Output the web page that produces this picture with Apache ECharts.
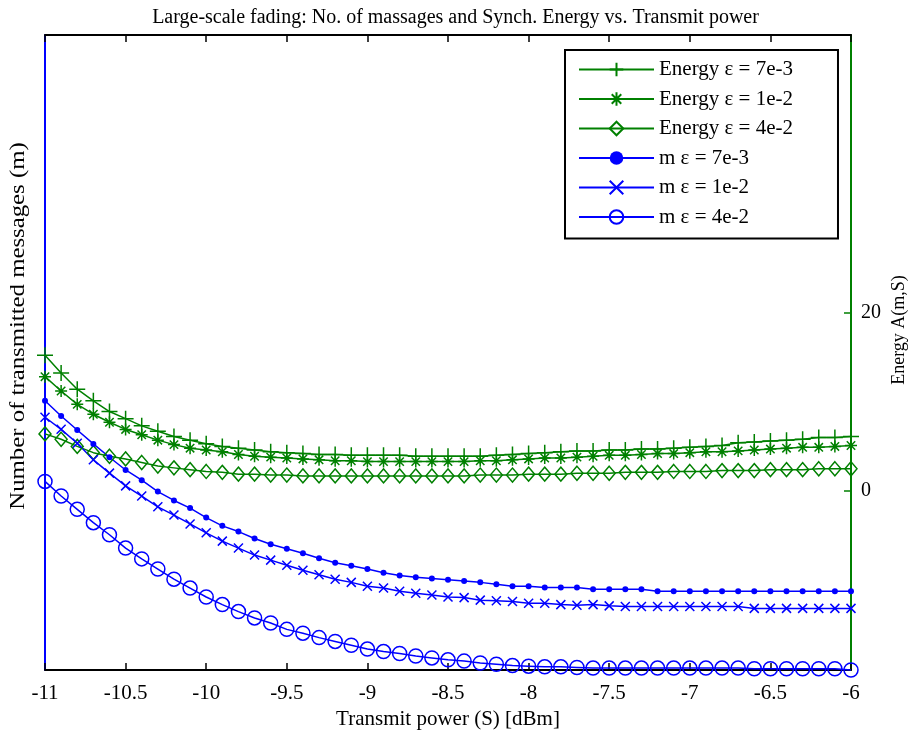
<!DOCTYPE html>
<html>
<head>
<meta charset="utf-8" />
<title>Large-scale fading</title>
<script src="https://cdn.jsdelivr.net/npm/echarts@6/dist/echarts.min.js"></script>
<style>
  body { margin: 0; padding: 0; background: #fff; }
  #main { width: 911px; height: 732px; }
</style>
</head>
<body>
<div id="main"></div>
<script type="text/javascript">
// transmit power (dBm)
var power = [-11, -10.9, -10.8, -10.7, -10.6, -10.5, -10.4, -10.3, -10.2, -10.1,
  -10, -9.9, -9.8, -9.7, -9.6, -9.5, -9.4, -9.3, -9.2, -9.1,
  -9, -8.9, -8.8, -8.7, -8.6, -8.5, -8.4, -8.3, -8.2, -8.1,
  -8, -7.9, -7.8, -7.7, -7.6, -7.5, -7.4, -7.3, -7.2, -7.1,
  -7, -6.9, -6.8, -6.7, -6.6, -6.5, -6.4, -6.3, -6.2, -6.1, -6];

// energy A(m,S), right axis
var energy7e3 = [15.2, 13.2, 11.4, 10.1, 8.9, 8.1, 7.3, 6.7, 6.1, 5.7,
  5.3, 5.0, 4.8, 4.6, 4.4, 4.3, 4.2, 4.1, 4.1, 4.0,
  4.0, 4.0, 4.0, 3.9, 3.9, 3.9, 3.9, 3.9, 4.0, 4.1,
  4.2, 4.3, 4.4, 4.5, 4.5, 4.6, 4.6, 4.7, 4.7, 4.8,
  4.9, 5.0, 5.1, 5.4, 5.5, 5.6, 5.7, 5.8, 6.0, 6.0, 6.1];
var energy1e2 = [12.8, 11.2, 9.7, 8.6, 7.7, 6.9, 6.3, 5.7, 5.2, 4.8,
  4.6, 4.4, 4.1, 3.9, 3.8, 3.7, 3.6, 3.5, 3.4, 3.4,
  3.3, 3.3, 3.3, 3.3, 3.3, 3.3, 3.3, 3.4, 3.4, 3.5,
  3.6, 3.7, 3.7, 3.8, 3.9, 4.0, 4.0, 4.1, 4.2, 4.2,
  4.3, 4.4, 4.4, 4.5, 4.6, 4.7, 4.8, 4.9, 4.9, 5.0, 5.1];
var energy4e2 = [6.4, 5.8, 5.0, 4.3, 3.9, 3.6, 3.2, 2.8, 2.6, 2.4,
  2.2, 2.1, 1.9, 1.9, 1.8, 1.8, 1.7, 1.7, 1.7, 1.7,
  1.7, 1.7, 1.7, 1.7, 1.7, 1.7, 1.7, 1.8, 1.8, 1.8,
  1.9, 1.9, 1.9, 2.0, 2.0, 2.0, 2.1, 2.1, 2.1, 2.2,
  2.2, 2.2, 2.3, 2.3, 2.3, 2.4, 2.4, 2.4, 2.5, 2.5, 2.5];

// number of transmitted messages m, left axis (no tick labels on it)
var m7e3 = [42.4, 40.0, 37.8, 35.6, 33.5, 31.5, 29.9, 28.1, 26.7, 25.5,
  24.0, 22.7, 21.8, 20.7, 19.8, 19.1, 18.4, 17.6, 16.9, 16.4,
  15.9, 15.3, 14.9, 14.6, 14.4, 14.2, 14.0, 13.8, 13.5, 13.2,
  13.2, 13.0, 13.0, 13.0, 12.7, 12.7, 12.7, 12.7, 12.4, 12.4,
  12.4, 12.4, 12.4, 12.4, 12.4, 12.4, 12.4, 12.4, 12.4, 12.4, 12.4];
var m1e2 = [39.8, 37.9, 35.7, 33.1, 31.0, 29.0, 27.4, 25.7, 24.4, 23.0,
  21.6, 20.3, 19.2, 18.1, 17.3, 16.5, 15.7, 15.0, 14.3, 13.8,
  13.2, 12.9, 12.4, 12.1, 11.8, 11.5, 11.4, 11.0, 10.9, 10.8,
  10.5, 10.5, 10.3, 10.2, 10.3, 10.1, 10.0, 10.0, 10.0, 10.0,
  10.0, 10.0, 10.0, 10.0, 9.7, 9.7, 9.7, 9.7, 9.7, 9.7, 9.7];
var m4e2 = [29.7, 27.4, 25.3, 23.2, 21.3, 19.2, 17.5, 15.9, 14.3, 12.9,
  11.5, 10.3, 9.2, 8.2, 7.4, 6.4, 5.8, 5.1, 4.5, 3.9,
  3.3, 2.9, 2.6, 2.2, 1.9, 1.6, 1.4, 1.1, 0.9, 0.7,
  0.6, 0.5, 0.5, 0.4, 0.3, 0.3, 0.3, 0.3, 0.3, 0.3,
  0.3, 0.3, 0.3, 0.3, 0.2, 0.2, 0.2, 0.2, 0.2, 0.2, 0.0];

var xTicks = [-11, -6, 0.5];
var energyTicks = [0, 20];

var GREEN = '#008000';
var BLUE = '#0000ff';
var FONT = 'Liberation Serif';

var plusSym = 'path://M5,0L5,10M0,5L10,5';
var starSym = 'path://M5,0L5,10M0,5L10,5M1.5,1.5L8.5,8.5M1.5,8.5L8.5,1.5';
var crossSym = 'path://M0,0L10,10M0,10L10,0';

function pairs(ys) {
  return power.map(function (x, i) { return [x, ys[i]]; });
}

function mkSeries(name, ys, axis, color, symbol, size, filled) {
  return {
    name: name,
    type: 'line',
    yAxisIndex: axis,
    data: pairs(ys),
    symbol: symbol,
    symbolSize: size,
    clip: false,
    animation: false,
    lineStyle: { color: color, width: 1.5 },
    itemStyle: {
      color: filled ? color : 'rgba(0,0,0,0)',
      borderColor: color,
      borderWidth: filled ? 0 : 1.5
    }
  };
}

var chart = echarts.init(document.getElementById('main'));
chart.setOption({
  animation: false,
  title: {
    text: 'Large-scale fading: No. of massages and Synch. Energy vs. Transmit power',
    left: 'center',
    top: 3,
    textStyle: { fontFamily: FONT, fontSize: 20, fontWeight: 'normal', color: '#000' }
  },
  grid: { left: 45, right: 60, top: 35, bottom: 62, outerBoundsMode: 'none' },
  legend: {
    orient: 'vertical',
    left: 565,
    top: 50,
    padding: [9, 45, 11, 13],
    itemWidth: 75,
    itemHeight: 17,
    itemGap: 8.5,
    borderColor: '#000',
    borderWidth: 2,
    backgroundColor: '#fff',
    textStyle: { fontFamily: FONT, fontSize: 21, color: '#000' },
    data: ['Energy ε = 7e-3', 'Energy ε = 1e-2', 'Energy ε = 4e-2',
      'm ε = 7e-3', 'm ε = 1e-2', 'm ε = 4e-2']
  },
  xAxis: [
    {
      type: 'value',
      min: xTicks[0],
      max: xTicks[1],
      interval: xTicks[2],
      name: 'Transmit power (S) [dBm]',
      nameLocation: 'middle',
      nameGap: 35,
      nameTextStyle: { fontFamily: FONT, fontSize: 21, color: '#000' },
      axisLine: { onZero: false, lineStyle: { color: '#000', width: 2 } },
      axisTick: { inside: true, length: 7, lineStyle: { color: '#000', width: 1.5 } },
      axisLabel: { fontFamily: FONT, fontSize: 21, color: '#000', margin: 13 },
      splitLine: { show: false }
    },
    {
      type: 'value',
      position: 'top',
      min: xTicks[0],
      max: xTicks[1],
      interval: xTicks[2],
      axisLine: { onZero: false, lineStyle: { color: '#000', width: 2 } },
      axisTick: { inside: true, length: 7, lineStyle: { color: '#000', width: 1.5 } },
      axisLabel: { show: false },
      splitLine: { show: false }
    }
  ],
  yAxis: [
    {
      type: 'value',
      position: 'left',
      min: 0,
      max: 100,
      axisLine: { show: true, onZero: false, lineStyle: { color: BLUE, width: 2 } },
      axisTick: { show: false },
      axisLabel: { show: false },
      splitLine: { show: false }
    },
    {
      type: 'value',
      position: 'right',
      min: -20,
      max: 51,
      axisLine: { show: true, onZero: false, lineStyle: { color: GREEN, width: 2 } },
      axisTick: { show: true, inside: true, length: 7, customValues: energyTicks,
        lineStyle: { color: GREEN, width: 1.5 } },
      axisLabel: { fontFamily: FONT, fontSize: 20, color: '#000', margin: 10,
        customValues: energyTicks },
      splitLine: { show: false }
    }
  ],
  graphic: [
    {
      type: 'text',
      x: 18, y: 326,
      rotation: Math.PI / 2,
      scaleX: 1.18,
      style: { text: 'Number of transmitted messages (m)', fontFamily: FONT, fontSize: 21,
        fill: '#000', align: 'center', verticalAlign: 'middle' }
    },
    {
      type: 'text',
      x: 899, y: 330,
      rotation: Math.PI / 2,
      style: { text: 'Energy A(m,S)', fontFamily: FONT, fontSize: 18,
        fill: '#000', align: 'center', verticalAlign: 'middle' }
    }
  ],
  series: [
    mkSeries('Energy ε = 7e-3', energy7e3, 1, GREEN, plusSym, 16, false),
    mkSeries('Energy ε = 1e-2', energy1e2, 1, GREEN, starSym, 12, false),
    mkSeries('Energy ε = 4e-2', energy4e2, 1, GREEN, 'diamond', [12, 14], false),
    mkSeries('m ε = 7e-3', m7e3, 0, BLUE, 'circle', 6, true),
    mkSeries('m ε = 1e-2', m1e2, 0, BLUE, crossSym, 9, false),
    mkSeries('m ε = 4e-2', m4e2, 0, BLUE, 'circle', 14, false)
  ]
});
</script>
</body>
</html>
